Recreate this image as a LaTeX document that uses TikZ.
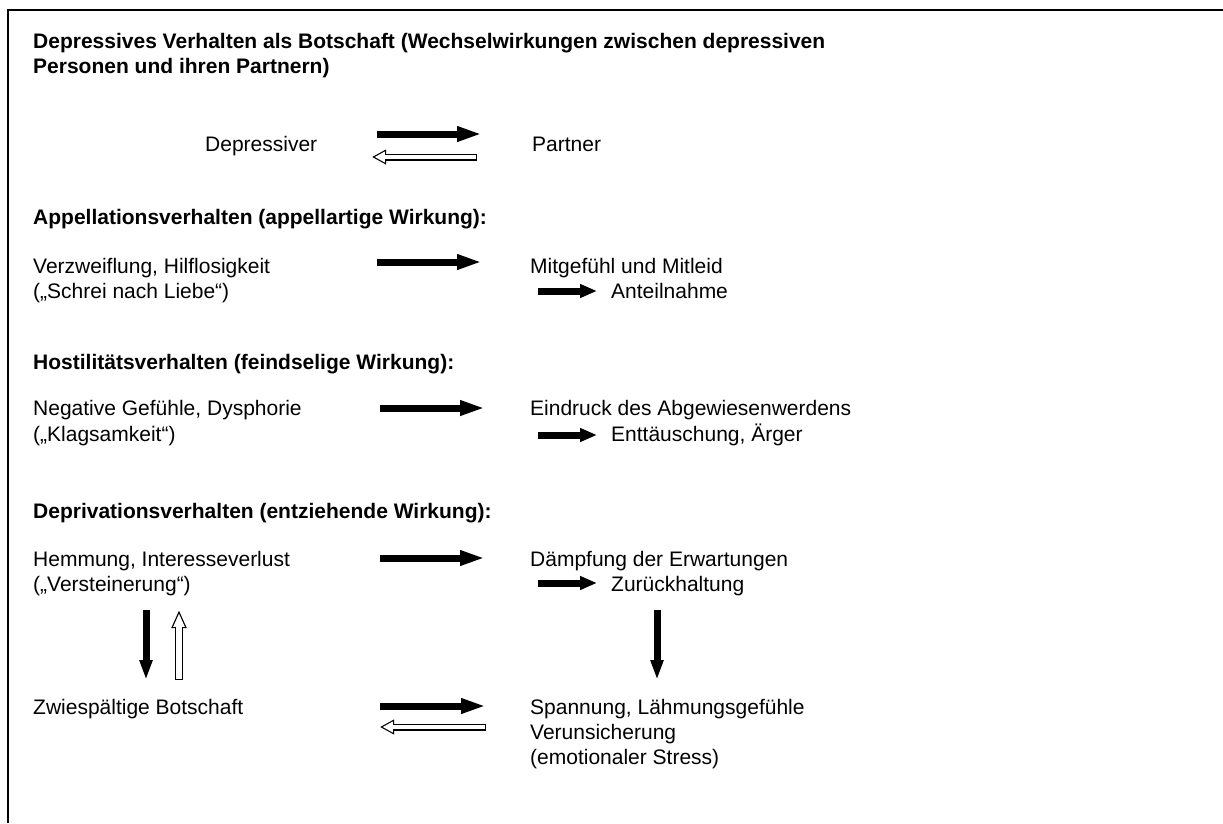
\documentclass[tikz,border=0pt]{standalone}
\usepackage{fontspec}
\setmainfont{Liberation Sans}
\usetikzlibrary{arrows.meta}
\tikzset{
  txt/.style={anchor=base west,inner sep=0pt,
    font=\fontsize{21}{25}\selectfont},
  headline/.style={txt,font=\fontsize{21}{25}\selectfont\bfseries},
  fat/.style={line width=7pt,-{Triangle[length=25pt,width=14pt]}},
  fatshort/.style={line width=7pt,-{Triangle[length=17pt,width=13pt]}},
  fatdown/.style={line width=7pt,-{Triangle[length=20pt,width=12pt]}},
  % hollow arrows: black outline first, white inside second
  hollowout/.style={line width=7pt,-{Triangle[length=14pt,width=14pt]}},
  hollowin/.style={draw=white,line width=4.6pt,shorten <=1.2pt,shorten >=2.6pt,
    -{Triangle[length=10.2pt,width=10.2pt]}},
  hollowupout/.style={line width=8pt,-{Triangle[length=18pt,width=14pt]}},
  hollowupin/.style={draw=white,line width=5.6pt,shorten <=1.2pt,shorten >=3.3pt,
    -{Triangle[length=13.5pt,width=10.5pt]}}
}
\begin{document}
\begin{tikzpicture}[x=1pt,y=-1pt]
  \pgfmathsetmacro\lcol{33}
  \pgfmathsetmacro\rcol{530}
  \pgfmathsetmacro\icol{611}
  \useasboundingbox (0,0) rectangle (1223,823);
  % frame (top and left side):
  \draw[line width=2pt] (8,823) -- (8,10) -- (1223,10);
  % title:
  \node[headline] (title) at (\lcol,48) {Depressives Verhalten als Botschaft (Wechselwirkungen zwischen depressiven};
  \node[headline] (title2) at ([yshift=-25pt]title.base west) {Personen und ihren Partnern)};
  % the two sides:
  \node[txt] (depr) at (205,151) {Depressiver};
  \node[txt] (partner) at (532,151) {Partner};
  \coordinate (d1) at (377,134); \coordinate (p1) at (482,134);
  \coordinate (p2) at (477,157); \coordinate (d2) at (372,157);
  \draw[fat] (d1) -- (p1);
  \draw[hollowout] (p2) -- (d2);
  \draw[hollowin] (p2) -- (d2);
  % appellation:
  \node[headline] (appell) at (\lcol,224.5) {Appellationsverhalten (appellartige Wirkung):};
  \node[txt] (verzw) at (\lcol,273.5) {Verzweiflung, Hilflosigkeit};
  \node[txt] (schrei) at ([yshift=-25pt]verzw.base west) {(„Schrei nach Liebe“)};
  \node[txt] (mitgef) at (\rcol,273.5) {Mitgefühl und Mitleid};
  \node[txt] (anteil) at (\icol,298.5) {Anteilnahme};
  \coordinate (v1) at (377,262); \coordinate (m1) at (482,262);
  \coordinate (m2) at (538,291); \coordinate (a1) at (597,291);
  \draw[fat] (v1) -- (m1);
  \draw[fatshort] (m2) -- (a1);
  % hostility:
  \node[headline] (hostil) at (\lcol,369.5) {Hostilitätsverhalten (feindselige Wirkung):};
  \node[txt] (negat) at (\lcol,415.5) {Negative Gefühle, Dysphorie};
  \node[txt] (klag) at ([yshift=-25.5pt]negat.base west) {(„Klagsamkeit“)};
  \node[txt] (eindr) at (\rcol,415.5) {Eindruck des Abgewiesenwerdens};
  \node[txt] (entt) at (\icol,441) {Enttäuschung, Ärger};
  \coordinate (n1) at (380,408); \coordinate (e1) at (485,408);
  \coordinate (e2) at (538,435); \coordinate (t1) at (597,435);
  \draw[fat] (n1) -- (e1);
  \draw[fatshort] (e2) -- (t1);
  % deprivation:
  \node[headline] (depriv) at (\lcol,518.5) {Deprivationsverhalten (entziehende Wirkung):};
  \node[txt] (hemm) at (\lcol,566) {Hemmung, Interesseverlust};
  \node[txt] (verst) at ([yshift=-25pt]hemm.base west) {(„Versteinerung“)};
  \node[txt] (daempf) at (\rcol,566) {Dämpfung der Erwartungen};
  \node[txt] (zurueck) at (\icol,591) {Zurückhaltung};
  \coordinate (h1) at (380,558); \coordinate (f1) at (485,558);
  \coordinate (f2) at (538,583); \coordinate (z1) at (597,583);
  \draw[fat] (h1) -- (f1);
  \draw[fatshort] (f2) -- (z1);
  % ambivalent message and tension:
  \node[txt] (zwiesp) at (\lcol,714) {Zwiespältige Botschaft};
  \node[txt] (spann) at (\rcol,714) {Spannung, Lähmungsgefühle};
  \node[txt] (verun) at ([yshift=-25pt]spann.base west) {Verunsicherung};
  \node[txt] (stress) at ([yshift=-25pt]verun.base west) {(emotionaler Stress)};
  \coordinate (w1) at (380,706); \coordinate (s1) at (486,706);
  \coordinate (s2) at (486,727); \coordinate (w2) at (380,727);
  \draw[fat] (w1) -- (s1);
  \draw[hollowout] (s2) -- (w2);
  \draw[hollowin] (s2) -- (w2);
  % vertical arrows:
  \coordinate (hd) at (146,610); \coordinate (zd) at (146,680);
  \coordinate (zu) at (179,680); \coordinate (hu) at (179,610);
  \coordinate (rd) at (657,610); \coordinate (sd) at (657,680);
  \draw[fatdown] (hd) -- (zd);
  \draw[hollowupout] (zu) -- (hu);
  \draw[hollowupin] (zu) -- (hu);
  \draw[fatdown] (rd) -- (sd);
\end{tikzpicture}
\end{document}
